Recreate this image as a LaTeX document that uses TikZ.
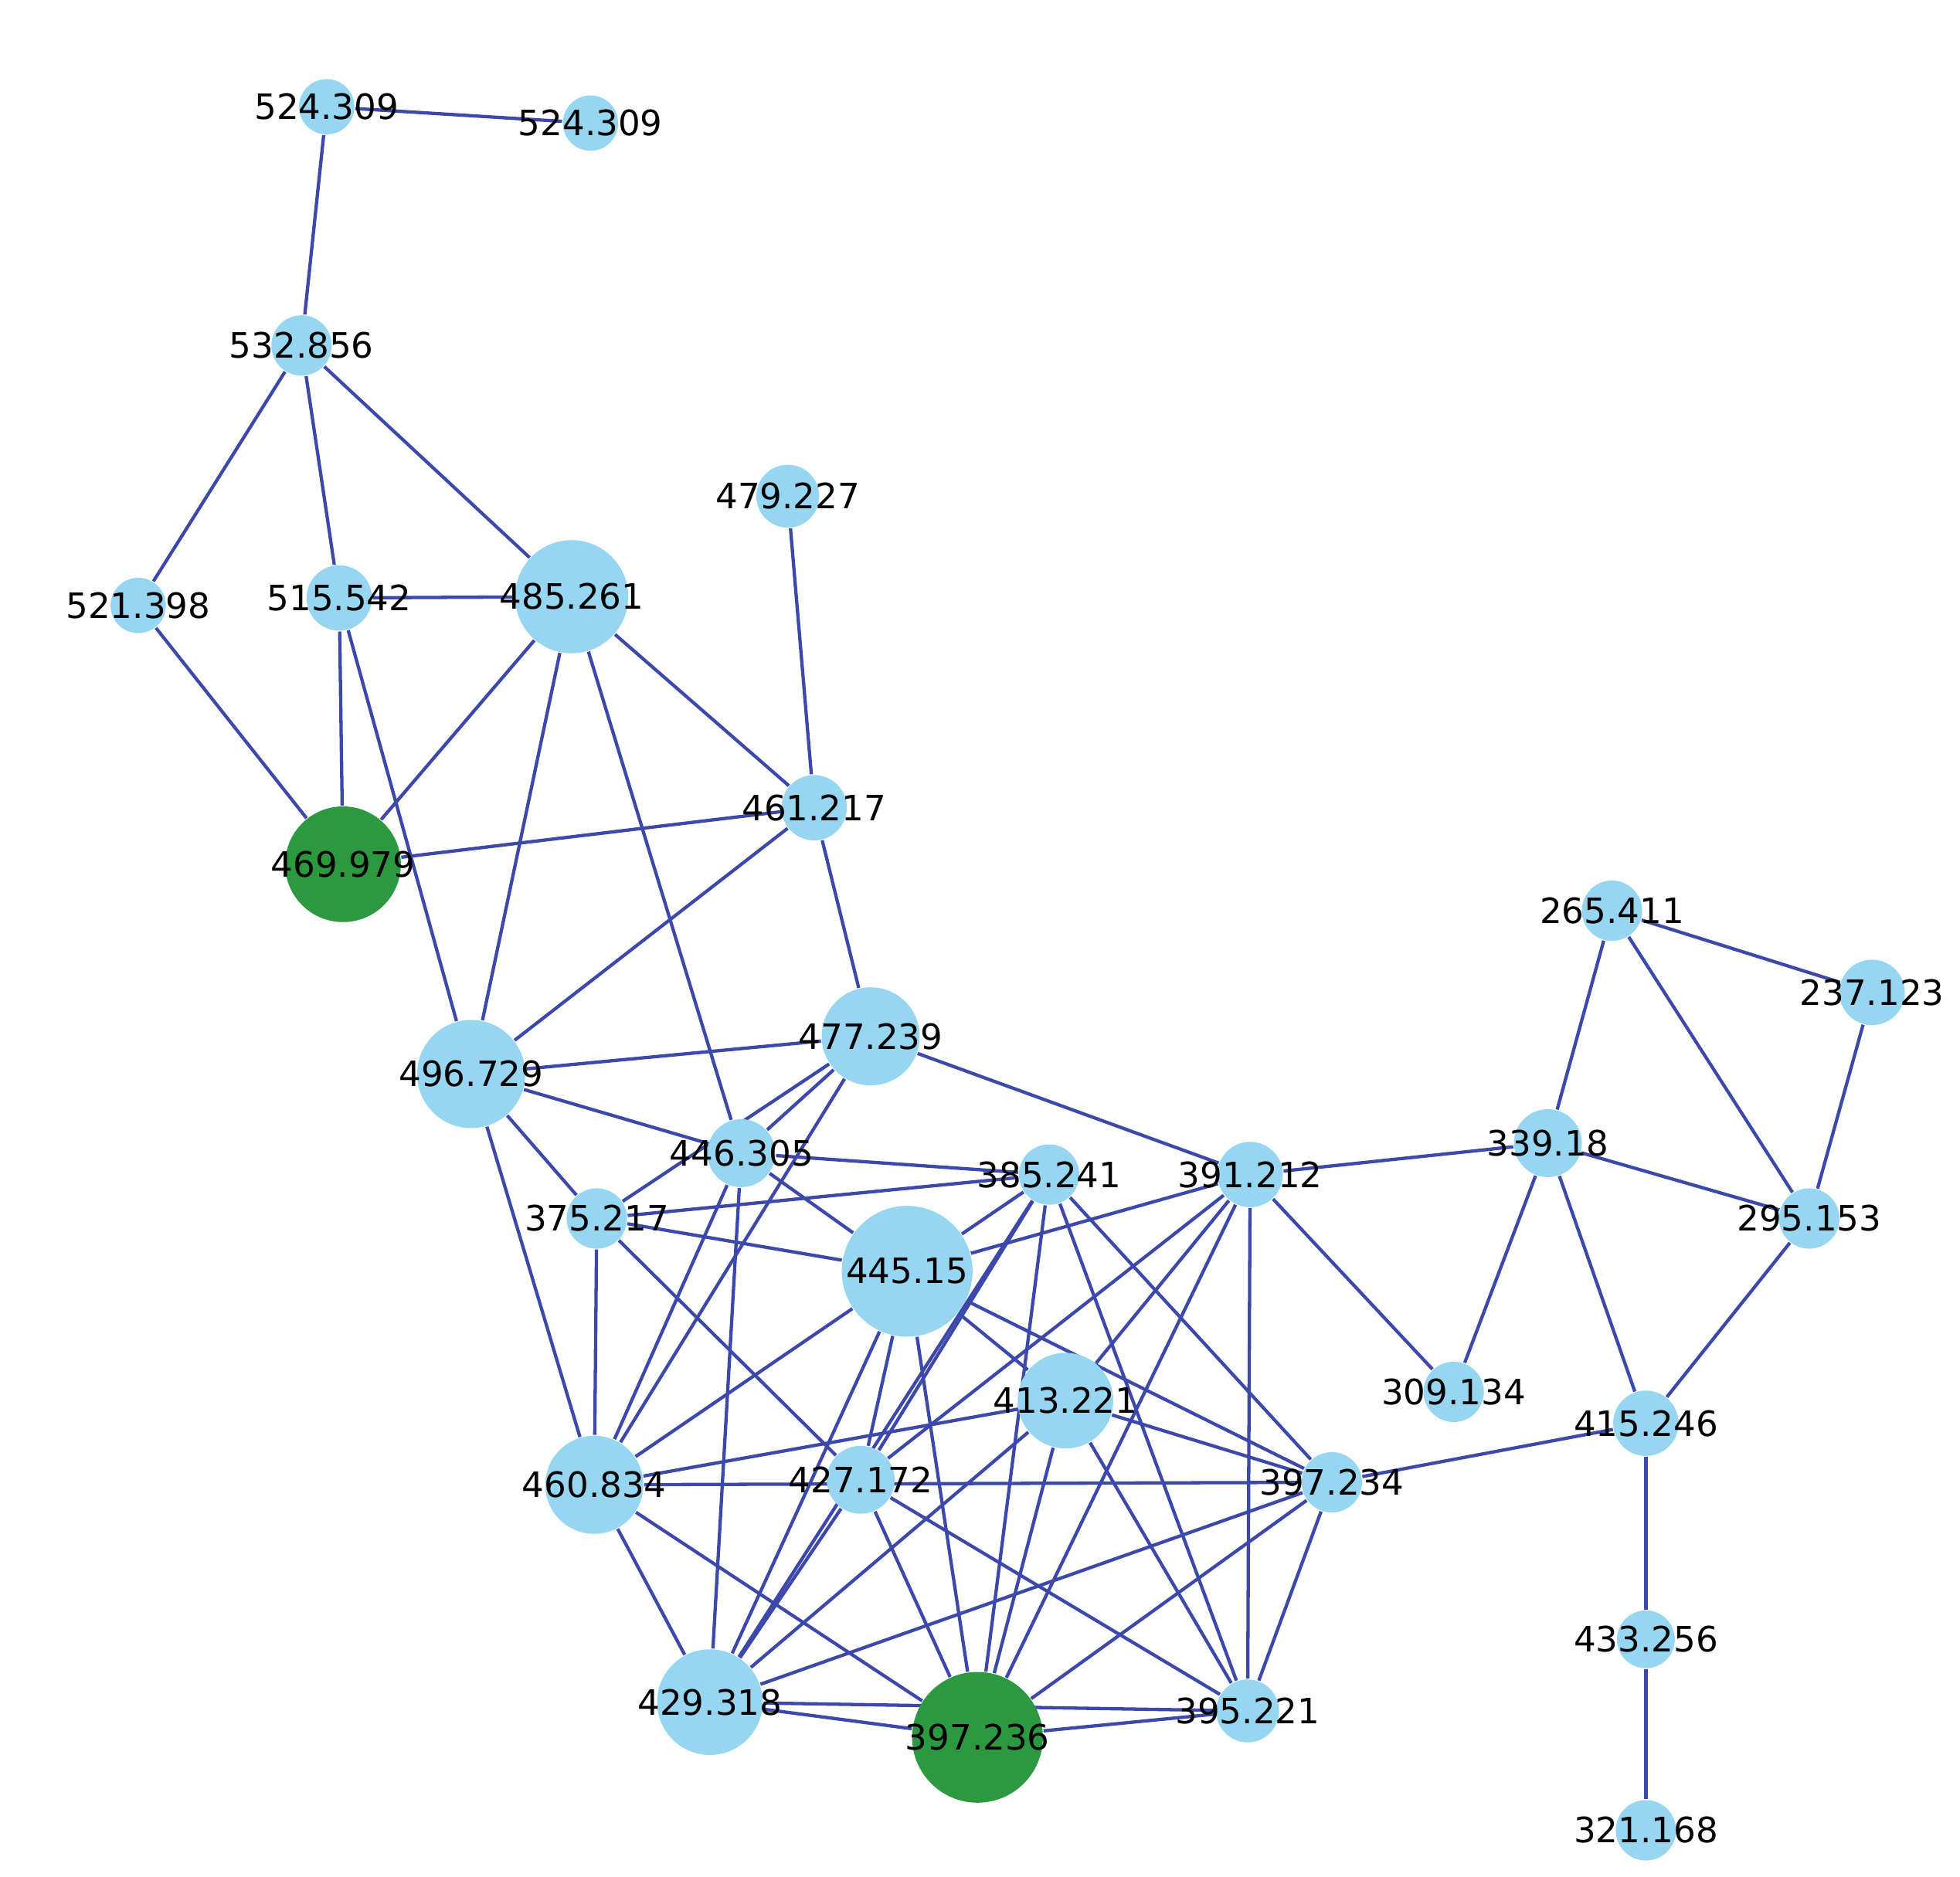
\documentclass[tikz,border=0pt]{standalone}
\usepackage{fontspec}
\setmainfont{DejaVu Sans}
\usetikzlibrary{backgrounds}
\definecolor{nodeblue}{RGB}{150,214,240}
\definecolor{nodegreen}{RGB}{44,152,64}
\definecolor{edgeblue}{RGB}{60,72,170}
\tikzset{
  nd/.style={circle,fill=nodeblue,inner sep=0pt,minimum size=#1*0.02cm},
  ng/.style={nd=#1,fill=nodegreen},
  every label/.style={font=\fontsize{7.9pt}{8pt}\selectfont,inner sep=0pt},
  edge/.style={draw=edgeblue,line width=0.75pt}
}
\begin{document}
\begin{tikzpicture}[x=0.01cm,y=-0.01cm]
        \useasboundingbox (0,0) rectangle (1560,1494);

        % nodes
        \node[nd=22,label=center:524.309] (n524a) at (260,85) {};
        \node[nd=22,label=center:524.309] (n524b) at (470,98) {};
        \node[nd=24,label=center:532.856] (n532) at (240,275) {};
        \node[nd=25,label=center:479.227] (n479) at (627,395) {};
        \node[nd=22,label=center:521.398] (n521) at (110,482) {};
        \node[nd=26,label=center:515.542] (n515) at (270,476) {};
        \node[nd=45,label=center:485.261] (n485) at (455,475) {};
        \node[nd=26,label=center:461.217] (n461) at (648,643) {};
        \node[ng=46,label=center:469.979] (n469) at (273,688) {};
        \node[nd=24,label=center:265.411] (n265) at (1283,725) {};
        \node[nd=26,label=center:237.123] (n237) at (1490,790) {};
        \node[nd=39,label=center:477.239] (n477) at (693,825) {};
        \node[nd=43,label=center:496.729] (n496) at (375,855) {};
        \node[nd=27,label=center:446.305] (n446) at (590,918) {};
        \node[nd=24,label=center:385.241] (n385) at (835,935) {};
        \node[nd=26,label=center:391.212] (n391) at (995,935) {};
        \node[nd=27,label=center:339.18] (n339) at (1232,910) {};
        \node[nd=24,label=center:295.153] (n295) at (1440,970) {};
        \node[nd=24,label=center:375.217] (n375) at (475,970) {};
        \node[nd=52,label=center:445.15] (n445) at (722,1012) {};
        \node[nd=24,label=center:309.134] (n309) at (1157,1108) {};
        \node[nd=38,label=center:413.221] (n413) at (848,1115) {};
        \node[nd=26,label=center:415.246] (n415) at (1310,1133) {};
        \node[nd=39,label=center:460.834] (n460) at (473,1182) {};
        \node[nd=27,label=center:427.172] (n427) at (685,1178) {};
        \node[nd=24,label=center:397.234] (n397b) at (1060,1180) {};
        \node[nd=23,label=center:433.256] (n433) at (1310,1305) {};
        \node[nd=42,label=center:429.318] (n429) at (565,1355) {};
        \node[ng=52,label=center:397.236] (n397a) at (778,1383) {};
        \node[nd=25,label=center:395.221] (n395) at (993,1362) {};
        \node[nd=24,label=center:321.168] (n321) at (1310,1457) {};

        % edges
        \begin{scope}[on background layer]
        \foreach \a/\b in {n524a/n524b,n524a/n532,n532/n521,n532/n515,n532/n485,
          n521/n469,n515/n485,n515/n469,n515/n496,n485/n469,n485/n496,n485/n461,
          n485/n446,n479/n461,n461/n469,n461/n496,n461/n477,n477/n496,n477/n391,
          n477/n446,n477/n375,n477/n460,n496/n446,n496/n375,n496/n460,n446/n385,
          n446/n445,n446/n460,n446/n429,n375/n385,n375/n445,n375/n460,n375/n427,
          n385/n445,n385/n427,n385/n429,n385/n397a,n385/n395,n385/n397b,
          n391/n445,n391/n339,n391/n309,n391/n427,n391/n413,n391/n397a,n391/n395,
          n339/n265,n339/n295,n339/n309,n339/n415,n265/n237,n265/n295,n237/n295,
          n295/n415,n415/n397b,n415/n433,n433/n321,n445/n460,n445/n427,n445/n413,
          n445/n397b,n445/n397a,n445/n429,n413/n460,n413/n429,n413/n397b,n413/n395,
          n413/n397a,n460/n397b,n460/n429,n460/n397a,n427/n397a,n427/n429,n427/n395,
          n429/n397a,n429/n395,n397a/n395,n397a/n397b,n429/n397b,n397b/n395}
          \draw[edge] (\a) -- (\b);
        \end{scope}

\end{tikzpicture}
\end{document}
